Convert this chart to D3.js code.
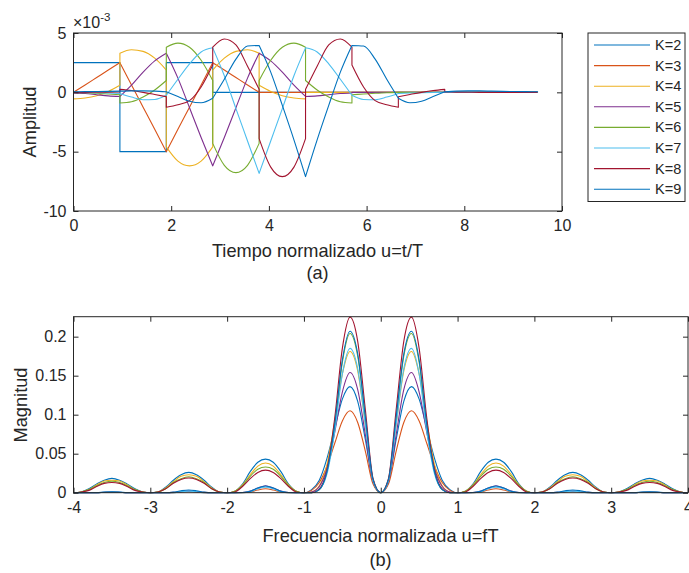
<!DOCTYPE html>
<html>
<head>
<meta charset="utf-8">
<script src="https://cdn.jsdelivr.net/npm/d3@7"></script>
<style>
  body { margin: 0; background: #fff; }
  svg { display: block; font-family: "Liberation Sans", Arial, sans-serif; }
  .axis text { font-size: 16px; fill: #262626; }
  .axis line { stroke: #262626; }
  .lbl { font-size: 18.2px; fill: #262626; }
</style>
</head>
<body>
<svg id="chart" width="689" height="573"></svg>
<script>
// Pulse order and MATLAB default colour cycle (8th wraps back to blue)
const kValues = [2, 3, 4, 5, 6, 7, 8, 9];
const kColors = ["#0072BD", "#D95319", "#EDB120", "#7E2F8E", "#77AC30", "#4DBEEE", "#A2142F", "#0072BD"];

// ---- (a) amplitude, in units of 1e-3 ----
// Every inner array is one interval of width 0.95, read at 0, 1/4, 1/2, 3/4 and the end of it.
const segWidth = 0.95;
const tEnd = 9.5;
const ampK2 = [[2.5, 2.5], [-5, -5], [2.5, 2.5]];
const ampK3 = [[0, 0.62, 1.25, 1.88, 2.5], [2.5, 0.62, -1.25, -3.12, -5], [-5, -3.12, -1.25, 0.62, 2.5], [2.5, 1.88, 1.25, 0.62, 0]];
const ampK4 = [[-0.55, -0.48, -0.28, 0.08, 0.6], [3.3, 3.59, 3.45, 2.88, 1.88], [-4.6, -5.8, -6.2, -5.8, -4.6],
               [1.88, 2.88, 3.45, 3.59, 3.3], [0.6, 0.08, -0.28, -0.48, -0.55]];
const ampK5 = [[-0.05, -0.1, -0.2, -0.3, -0.35], [-0.35, 0.6, 1.7, 2.65, 3.3], [3.3, 1.2, -1.3, -3.8, -6.2],
               [-6.2, -3.8, -1.3, 1.2, 3.3], [3.3, 2.65, 1.7, 0.6, -0.35], [-0.35, -0.3, -0.2, -0.1, -0.05]];
const ampK6 = [[0, -0.03, -0.08, -0.14, -0.2], [-0.9, -0.8, -0.4, 0.2, 1.0], [3.8, 4.15, 3.8, 2.7, 1.0],
               [-4.3, -6.15, -6.77, -6.15, -4.3], [1.0, 2.7, 3.8, 4.15, 3.8], [1.0, 0.2, -0.4, -0.8, -0.9],
               [-0.2, -0.14, -0.08, -0.03, 0]];
const ampK7 = [[0, -0.01, -0.03, -0.06, -0.1], [-0.1, -0.4, -0.62, -0.6, -0.25], [-0.25, 1.1, 2.4, 3.4, 3.75],
               [3.75, 1.4, -1.37, -4.1, -6.83], [-6.83, -4.1, -1.37, 1.4, 3.75], [3.75, 3.4, 2.4, 1.1, -0.25],
               [-0.25, -0.6, -0.62, -0.4, -0.1], [-0.1, -0.06, -0.03, -0.01, 0]];
const ampK8 = [[0, 0, 0.01, 0.02, 0.03], [0.25, 0.15, 0, -0.18, -0.37], [-1.26, -1.05, -0.7, 0.45, 2.3],
               [3.8, 4.5, 4.0, 2.2, 0.25], [-3.9, -6.3, -7.1, -6.3, -3.9], [0.25, 2.2, 4.0, 4.5, 3.8],
               [2.3, 0.45, -0.7, -1.05, -1.26], [-0.37, -0.18, 0, 0.15, 0.25], [0.03, 0.02, 0.01, 0, 0]];
const ampK9 = [[0.05, 0.06, 0.07, 0.08, 0.1], [0.1, 0.12, 0.12, 0.1, 0.05], [0.05, -0.35, -0.75, -0.88, -0.5],
               [-0.5, 1.1, 2.8, 3.9, 3.95], [3.95, 1.7, -1.1, -4.0, -7.1], [-7.1, -4.0, -1.1, 1.7, 3.95],
               [3.95, 3.9, 2.8, 1.1, -0.5], [-0.5, -0.88, -0.75, -0.35, 0.05], [0.05, 0.1, 0.12, 0.12, 0.1],
               [0.1, 0.08, 0.07, 0.06, 0.05]];
const ampSeries = [ampK2, ampK3, ampK4, ampK5, ampK6, ampK7, ampK8, ampK9];
const ampXTicks = [0, 2, 4, 6, 8, 10];
const ampYTicks = [-10, -5, 0, 5];

// ---- (b) magnitude spectrum, read for f = 0, 0.1, ... 4.0 (the curve is even in f) ----
const freqGrid = d3.range(0, 41).map(i => i / 10);
const magK2 = [0, .014, .068, .117, .136, .120, .082, .044, .016, .004, 0,
               .002, .011, .027, .039, .043, .039, .027, .011, .002, 0,
               .001, .007, .016, .023, .026, .023, .016, .007, .001, 0,
               .001, .005, .011, .016, .0184, .016, .011, .005, .001, 0];
const magK3 = [0, .011, .053, .090, .105, .092, .063, .034, .013, .003, 0,
               0, 0, .001, .0035, .005, .0035, .001, 0, 0, 0,
               0, 0, 0, .001, .0015, .001, 0, 0, 0, 0,
               0, 0, 0, .0003, .0005, .0003, 0, 0, 0, 0];
const magK4 = [0, .016, .087, .156, .181, .152, .091, .036, .009, .001, 0,
               .002, .010, .023, .034, .038, .034, .023, .010, .002, 0,
               .001, .006, .014, .021, .023, .021, .014, .006, .001, 0,
               .001, .004, .010, .015, .016, .015, .010, .004, .001, 0];
const magK5 = [0, .014, .074, .132, .154, .129, .077, .031, .008, .001, 0,
               0, .0002, .002, .006, .009, .006, .002, .0002, 0, 0,
               0, 0, .0004, .0014, .002, .0014, .0004, 0, 0, 0,
               0, 0, 0, .0006, .0008, .0006, 0, 0, 0, 0];
const magK6 = [0, .016, .096, .175, .204, .167, .086, .027, .004, 0, 0,
               .002, .009, .021, .030, .033, .030, .021, .009, .002, 0,
               .001, .005, .013, .018, .0205, .018, .013, .005, .001, 0,
               .001, .004, .009, .013, .0147, .013, .009, .004, .001, 0];
const magK7 = [0, .015, .087, .159, .185, .152, .078, .024, .004, 0, 0,
               0, 0, .0014, .005, .007, .005, .0014, 0, 0, 0,
               0, 0, 0, .0014, .002, .0014, 0, 0, 0, 0,
               0, 0, 0, .0006, .0008, .0006, 0, 0, 0, 0];
const magK8 = [0, .018, .106, .194, .225, .185, .095, .029, .005, 0, 0,
               .001, .008, .018, .026, .029, .026, .018, .008, .001, 0,
               .001, .005, .012, .017, .0188, .017, .012, .005, .001, 0,
               .001, .003, .008, .012, .013, .012, .008, .003, .001, 0];
const magK9 = [0, .017, .097, .178, .207, .170, .087, .027, .004, 0, 0,
               0, .0002, .0017, .006, .0085, .006, .0017, .0002, 0, 0,
               0, 0, .0007, .0025, .0035, .0025, .0007, 0, 0, 0,
               0, 0, 0, .0007, .001, .0007, 0, 0, 0, 0];
const magSeries = [magK2, magK3, magK4, magK5, magK6, magK7, magK8, magK9];
const magXTicks = [-4, -3, -2, -1, 0, 1, 2, 3, 4];
const magYTicks = [0, 0.05, 0.1, 0.15, 0.2];

const svg = d3.select("#chart");
const TICK = 5;
const plain = d => String(d);   // MATLAB prints a hyphen, not a unicode minus

// ---------- panel (a) ----------
const xA = d3.scaleLinear().domain([0, 10]).range([73.5, 562]);
const yA = d3.scaleLinear().domain([-10, 5]).range([211, 33]);

function boxAxes(x, y, xt, yt) {
  const [x0, x1] = x.range(), [y0, y1] = y.range();
  const g = svg.append("g");
  g.append("g").attr("class", "axis").attr("transform", `translate(0,${y0})`)
    .call(d3.axisBottom(x).tickValues(xt).tickSizeInner(-TICK).tickSizeOuter(0).tickPadding(9).tickFormat(plain))
    .call(a => a.select(".domain").remove());
  g.append("g").attr("class", "axis").attr("transform", `translate(0,${y1})`)
    .call(d3.axisTop(x).tickValues(xt).tickSizeInner(-TICK).tickSizeOuter(0).tickFormat(""))
    .call(a => a.select(".domain").remove());
  g.append("g").attr("class", "axis").attr("transform", `translate(${x0},0)`)
    .call(d3.axisLeft(y).tickValues(yt).tickSizeInner(-TICK).tickSizeOuter(0).tickPadding(7).tickFormat(plain))
    .call(a => a.select(".domain").remove());
  g.append("g").attr("class", "axis").attr("transform", `translate(${x1},0)`)
    .call(d3.axisRight(y).tickValues(yt).tickSizeInner(-TICK).tickSizeOuter(0).tickFormat(""))
    .call(a => a.select(".domain").remove());
  g.append("rect").attr("x", x0).attr("y", y1).attr("width", x1 - x0).attr("height", y0 - y1)
    .attr("fill", "none").attr("stroke", "#262626").attr("stroke-width", 1);
  g.selectAll(".axis text").style("font-family", "'Liberation Sans', Arial, sans-serif");
}

// one path per pulse: smooth inside each interval, straight joins (jumps) between them
function ampPath(segs) {
  const line = d3.line().x(d => xA(d[0])).y(d => yA(d[1])).curve(d3.curveMonotoneX);
  let d = "";
  segs.forEach((vals, i) => {
    const pts = vals.map((v, j) => [i * segWidth + j * segWidth / (vals.length - 1), v]);
    const s = line(pts);
    d += i === 0 ? s : "L" + s.slice(1);
  });
  const end = segs.length * segWidth;
  return d + `L${xA(end)},${yA(0)}L${xA(tEnd)},${yA(0)}`;
}

ampSeries.forEach((segs, i) => {
  svg.append("path").attr("d", ampPath(segs)).attr("fill", "none")
    .attr("stroke", kColors[i]).attr("stroke-width", 1.1).attr("stroke-linejoin", "round");
});
boxAxes(xA, yA, ampXTicks, ampYTicks);

// exponent above the y axis
const expo = svg.append("text").attr("class", "lbl").attr("x", 73).attr("y", 28).style("font-size", "16px");
expo.append("tspan").text("\u00d710");
expo.append("tspan").attr("dy", -7).style("font-size", "11.5px").text("-3");

svg.append("text").attr("class", "lbl").attr("transform", "translate(36,122) rotate(-90)")
  .attr("text-anchor", "middle").text("Amplitud");
svg.append("text").attr("class", "lbl").attr("x", 317.5).attr("y", 257)
  .attr("text-anchor", "middle").text("Tiempo normalizado u=t/T");
svg.append("text").attr("class", "lbl").attr("x", 317.5).attr("y", 279)
  .attr("text-anchor", "middle").text("(a)");

// legend
const lg = svg.append("g");
lg.append("rect").attr("x", 588).attr("y", 33).attr("width", 97).attr("height", 168.5)
  .attr("fill", "#fff").attr("stroke", "#262626").attr("stroke-width", 1);
kValues.forEach((k, i) => {
  const yy = 45 + i * 20.6;
  lg.append("line").attr("x1", 594).attr("x2", 650).attr("y1", yy).attr("y2", yy)
    .attr("stroke", kColors[i]).attr("stroke-width", 1.1);
  lg.append("text").attr("x", 655).attr("y", yy + 5).style("font-size", "14.5px").attr("fill", "#262626")
    .text("K=" + k);
});

// ---------- panel (b) ----------
const xB = d3.scaleLinear().domain([-4, 4]).range([73.5, 688]);
const yB = d3.scaleLinear().domain([0, 0.2256]).range([492.7, 316.7]);
const magLine = d3.line().x(d => xB(d[0])).y(d => yB(d[1])).curve(d3.curveMonotoneX);

magSeries.forEach((m, i) => {
  const left = freqGrid.map((f, j) => [-f, m[j]]).reverse();
  const right = freqGrid.map((f, j) => [f, m[j]]).slice(1);
  svg.append("path").attr("d", magLine(left.concat(right))).attr("fill", "none")
    .attr("stroke", kColors[i]).attr("stroke-width", 1.1).attr("stroke-linejoin", "round");
});
boxAxes(xB, yB, magXTicks, magYTicks);

svg.append("text").attr("class", "lbl").attr("transform", "translate(27,405) rotate(-90)")
  .attr("text-anchor", "middle").text("Magnitud");
svg.append("text").attr("class", "lbl").attr("x", 380.5).attr("y", 542)
  .attr("text-anchor", "middle").text("Frecuencia normalizada u=fT");
svg.append("text").attr("class", "lbl").attr("x", 380.5).attr("y", 566)
  .attr("text-anchor", "middle").text("(b)");
</script>
</body>
</html>
